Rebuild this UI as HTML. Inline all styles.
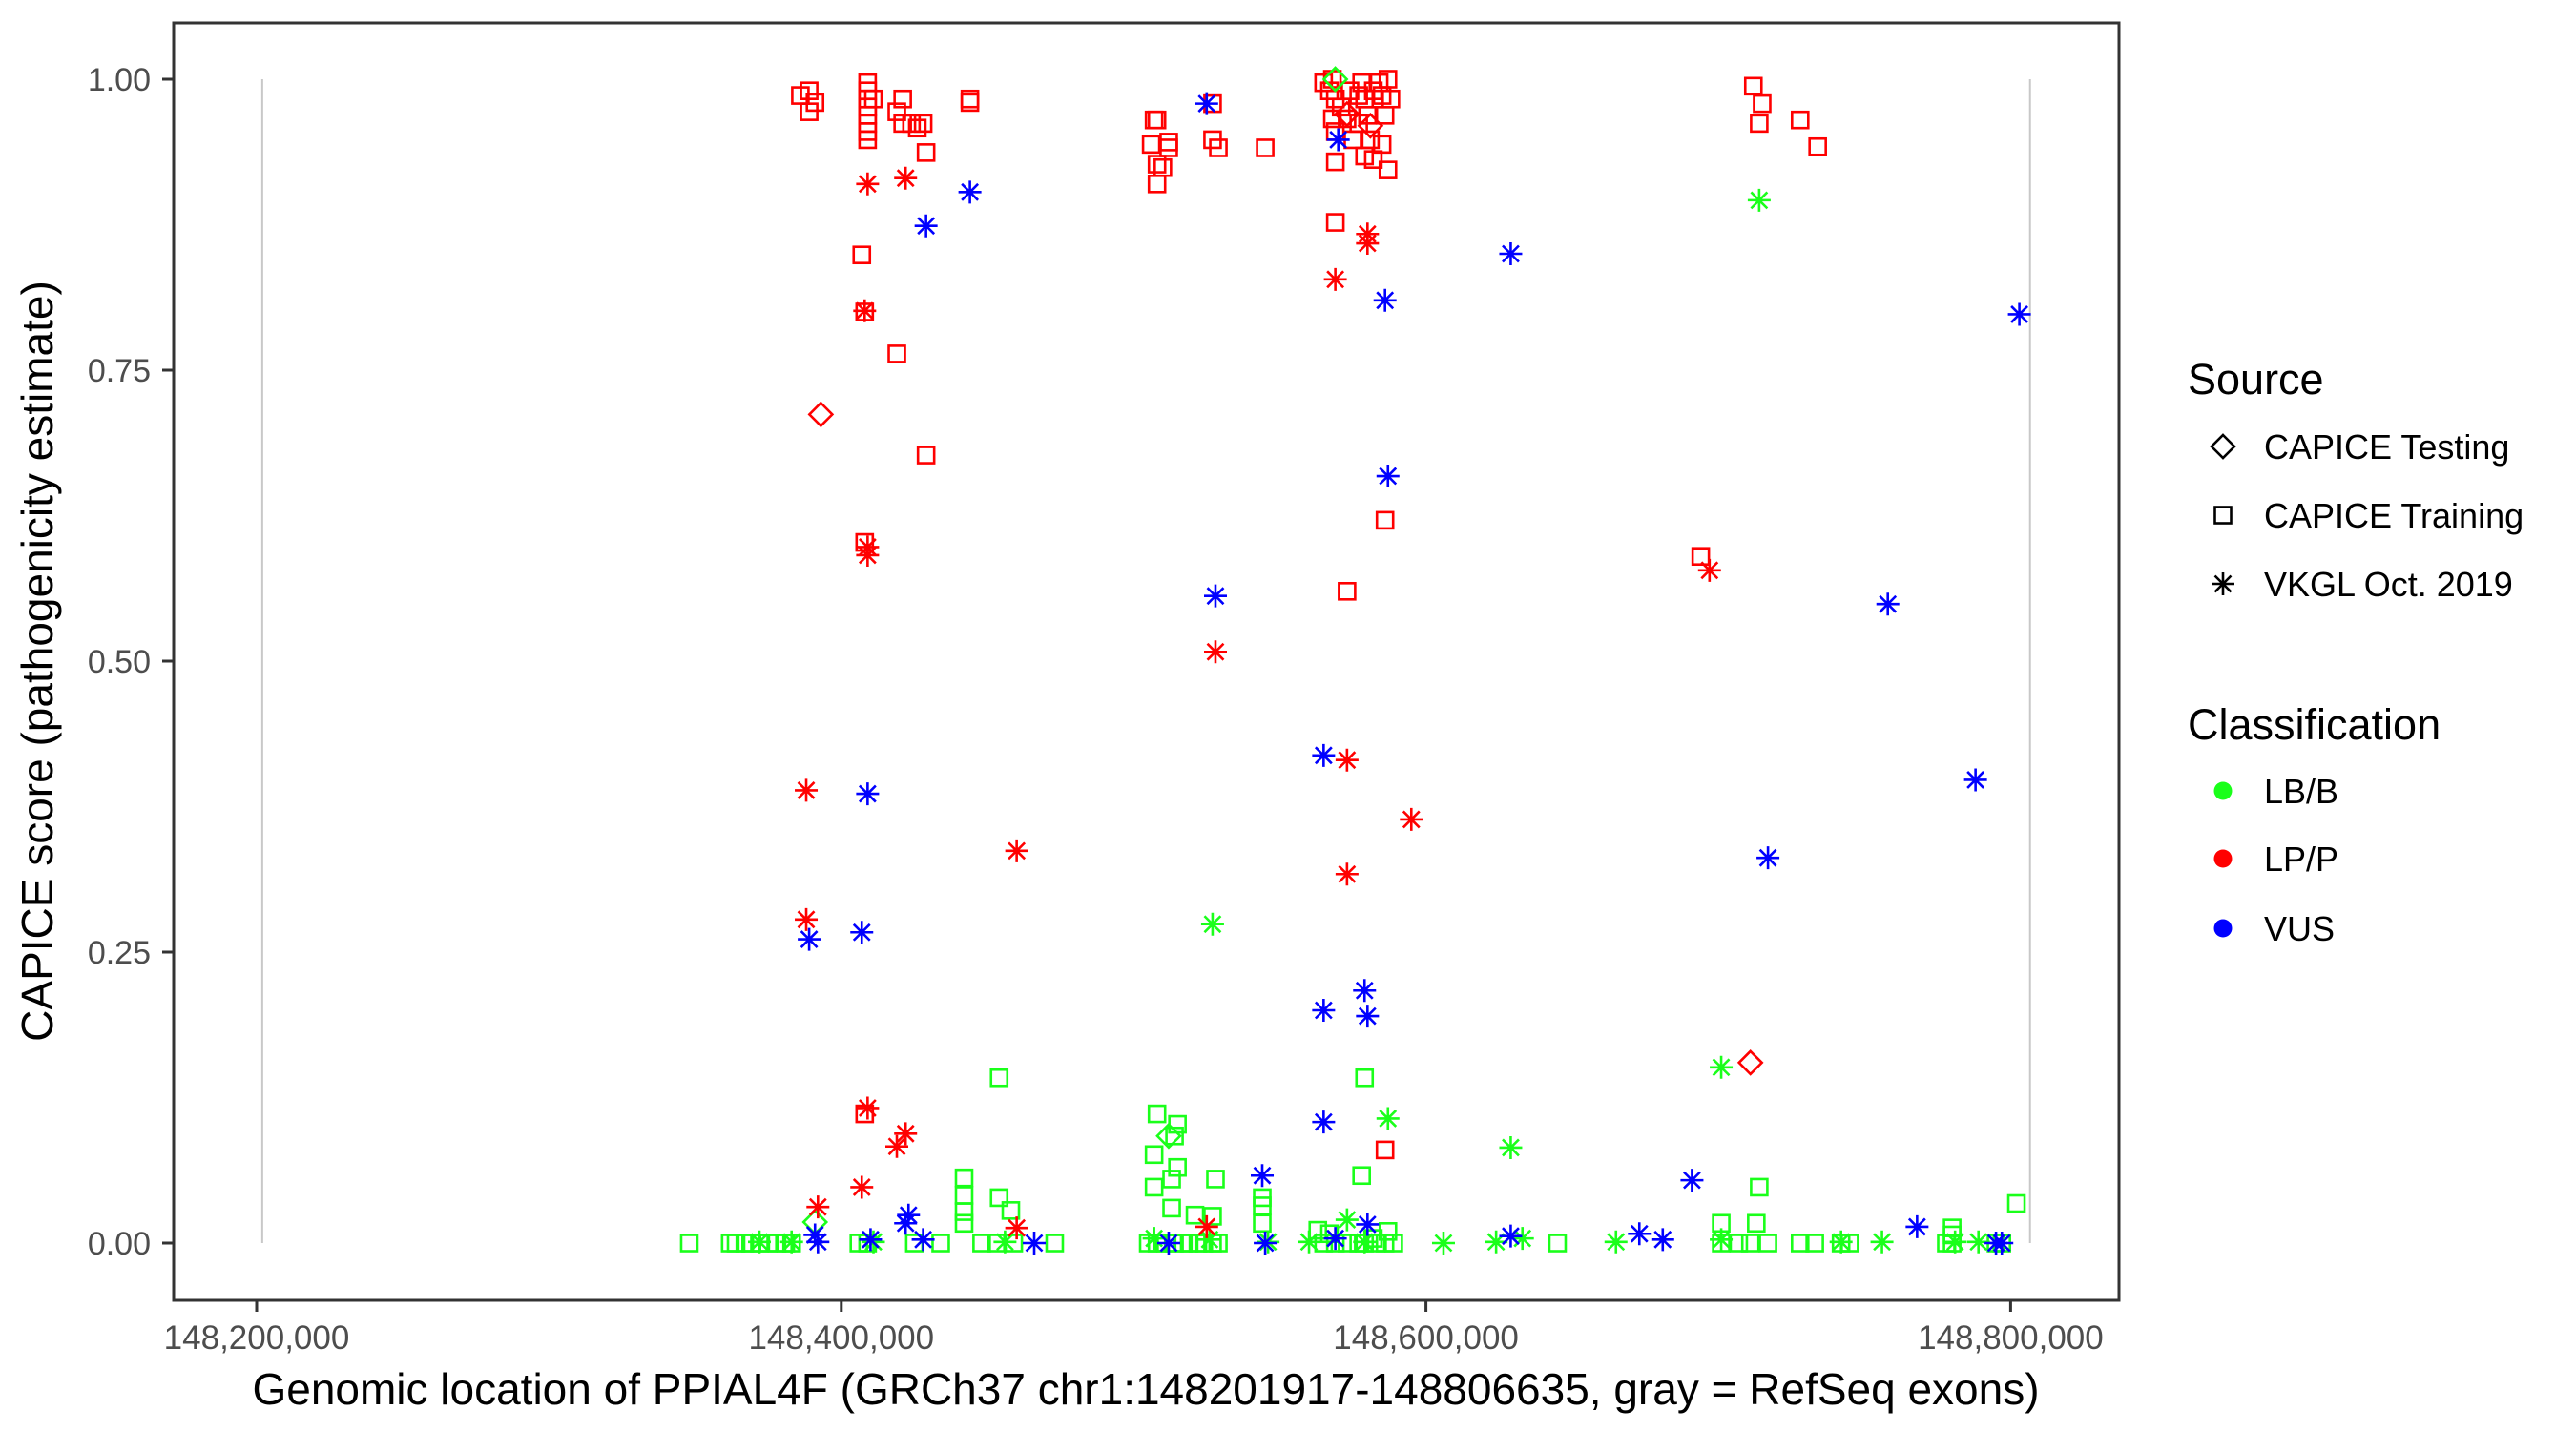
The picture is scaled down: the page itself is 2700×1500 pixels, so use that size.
<!DOCTYPE html>
<html><head><meta charset="utf-8"><style>
html,body{margin:0;padding:0;background:#fff;}
svg{display:block;font-family:"Liberation Sans",sans-serif;}
</style></head><body>
<svg id="chart" width="2700" height="1500" viewBox="0 0 2700 1500" xmlns="http://www.w3.org/2000/svg">
<rect x="0" y="0" width="2700" height="1500" fill="#fff"/>
<g id="plot"></g>
<g id="axes"></g>
<g id="legend"></g>
</svg>
<script>
const xTicks = [148200000, 148400000, 148600000, 148800000];
const xTickLabels = ["148,200,000","148,400,000","148,600,000","148,800,000"];
const yTicks = [0, 0.25, 0.5, 0.75, 1.0];
const yTickLabels = ["0.00","0.25","0.50","0.75","1.00"];
const exons = [148201917, 148806635];

// positions in kb (148,xxx,000), scores
const trainLP = [[148386,.986],[148389,.99],[148391,.98],[148389,.972],
[148409,.997],[148409,.99],[148409,.983],[148409,.976],[148409,.969],[148409,.962],[148409,.955],[148409,.948],
[148411,.983],[148419,.972],[148421,.983],[148424,.962],[148426,.958],[148428,.962],[148421,.962],
[148444,.983],[148444,.98],[148429,.937],[148407,.849],[148408,.80],[148419,.764],[148429,.677],[148408,.602],
[148507,.965],[148508,.965],[148506,.944],[148508,.927],[148510,.924],[148508,.91],[148512,.946],[148512,.941],[148527,.979],[148527,.948],[148529,.941],[148545,.941],
[148565,.997],[148567,.99],[148568,1.0],[148569,.983],[148571,.976],[148574,.99],[148577,.986],[148578,.997],[148579,.983],[148582,.99],[148584,.997],[148585,.986],[148587,1.0],[148588,.983],[148586,.969],[148580,.969],[148577,.962],[148573,.966],[148568,.966],[148569,.929],[148579,.934],[148582,.931],[148587,.922],[148585,.944],[148581,.948],[148569,.955],[148575,.948],
[148569,.877],[148573,.56],[148586,.621],[148586,.08],
[148712,.994],[148714,.962],[148715,.979],[148728,.965],[148734,.942],[148694,.59],[148408,.111]];
const testLP = [[148393,.712],[148711,.155],[148573,.97],[148581,.96]];
const vkglLP = [[148409,.91],[148422,.915],[148408,.801],[148409,.598],[148409,.591],[148388,.389],[148388,.278],[148460,.337],[148528,.508],[148569,.828],[148580,.867],[148580,.859],[148573,.415],[148573,.317],[148595,.364],[148697,.578],[148409,.116],[148422,.094],[148419,.083],[148407,.048],[148392,.031],[148460,.013],[148525,.014]];
const vkglVUS = [[148525,.979],[148570,.948],[148444,.903],[148429,.874],[148586,.81],[148629,.85],[148587,.659],[148528,.556],[148803,.798],[148758,.549],[148409,.386],[148389,.261],[148407,.267],[148565,.419],[148788,.398],[148717,.331],[148565,.20],[148579,.217],[148580,.195],[148565,.104],[148544,.058],[148691,.054],[148423,.024],[148422,.017],[148580,.016],[148768,.014],[148673,.008],[148391,.007],[148410,.003],[148428,.003],[148466,0],[148512,0],[148545,0],[148569,.004],[148629,.006],[148681,.003],[148795,0],[148797,0],[148392,.001]];
const vkglLB = [[148714,.896],[148527,.274],[148701,.151],[148587,.107],[148629,.082],[148573,.02],[148372,.001],[148383,.001],[148411,.001],[148456,.001],[148507,.004],[148526,.003],[148546,.001],[148560,.001],[148579,.001],[148606,0],[148624,.001],[148633,.004],[148665,.001],[148701,.003],[148742,.001],[148756,.001],[148789,.001],[148781,.001]];
const trainLB = [[148454,.142],[148508,.111],[148515,.102],[148514,.092],[148507,.076],[148515,.065],[148579,.142],[148578,.058],[148528,.055],[148513,.055],[148507,.048],[148714,.048],[148442,.056],[148442,.041],[148442,.027],[148442,.017],[148454,.039],[148458,.028],[148544,.039],[148544,.032],[148544,.017],[148802,.034],[148701,.017],[148713,.017],[148513,.030],[148521,.024],[148527,.023],[148563,.011],[148567,.008],[148780,.013],[148780,.007],[148587,.01],[148582,.004],
[148348,0],[148362,0],[148364,0],[148367,0],[148369,0],[148372,0],[148375,0],[148378,0],[148381,0],[148383,0],[148406,0],[148409,0],[148425,0],[148434,0],[148448,0],[148453,0],[148459,0],[148473,0],[148505,0],[148508,0],[148511,0],[148514,0],[148517,0],[148519,0],[148522,0],[148524,0],[148527,0],[148529,0],[148565,0],[148569,0],[148573,0],[148577,0],[148579,0],[148583,0],[148586,0],[148589,0],[148645,0],[148701,0],[148707,0],[148711,0],[148717,0],[148728,0],[148733,0],[148742,0],[148745,0],[148778,0],[148780,0],[148795,0],[148797,0]];
const testLB = [[148512,.092],[148391,.018],[148569,1.0]];

const NS = "http://www.w3.org/2000/svg";
const X0 = 269, KX = 0.003064;
function xs(v){ return X0 + (v - 148200000) * KX; }
function ys(v){ return 1303 - 1220 * v; }
const COL = {LB:"#1aff1a", LP:"#ff0000", VUS:"#0000ff"};

function mk(tag, attrs, parent){
  const e = document.createElementNS(NS, tag);
  for (const k in attrs) e.setAttribute(k, attrs[k]);
  parent.appendChild(e);
  return e;
}
const plot = document.getElementById('plot');
const axes = document.getElementById('axes');
const legend = document.getElementById('legend');

const panel = mk('rect', {x:182, y:24, width:2039, height:1339, fill:'#fff', stroke:'none'}, plot);



exons.forEach(p => {
  const l = mk('line', {x1:xs(p), x2:xs(p), y1:ys(1), y2:ys(0), stroke:'#c8c8c8', 'stroke-width':2}, plot);
  
  
});

function drawShape(g, shape, cx, cy, color){
  let e;
  if (shape === 'square') {
    e = mk('rect', {x:cx-8.5, y:cy-8.5, width:17, height:17, fill:'none', stroke:color, 'stroke-width':2.6}, g);
  } else if (shape === 'diamond') {
    e = mk('path', {d:`M${cx},${cy-12}L${cx+12},${cy}L${cx},${cy+12}L${cx-12},${cy}Z`, fill:'none', stroke:color, 'stroke-width':2.6}, g);
  } else {
    const r = 12, d = r*0.7071;
    e = mk('path', {d:`M${cx-r},${cy}H${cx+r}M${cx},${cy-r}V${cy+r}M${cx-d},${cy-d}L${cx+d},${cy+d}M${cx-d},${cy+d}L${cx+d},${cy-d}`, fill:'none', stroke:color, 'stroke-width':2.6}, g);
  }
  return e;
}

const series = [
  [trainLB,'square','LB'],[trainLP,'square','LP'],
  [testLB,'diamond','LB'],[testLP,'diamond','LP'],
  [vkglLB,'star','LB'],[vkglLP,'star','LP'],[vkglVUS,'star','VUS']
];
series.forEach(([arr, shape, cls]) => {
  const g = mk('g', {}, plot);
  
  
  arr.forEach(([kb, s]) => {
    const e = drawShape(g, shape, xs(kb*1000), ys(s), COL[cls]);
    
    
  });
});

const border = mk('rect', {x:182, y:24, width:2039, height:1339, fill:'none', stroke:'#333', 'stroke-width':3}, axes);



yTicks.forEach((v, i) => {
  const t = mk('line', {x1:170, x2:182, y1:ys(v), y2:ys(v), stroke:'#333', 'stroke-width':3}, axes);
  
  
  const tx = mk('text', {x:158, y:ys(v)+12, 'text-anchor':'end', 'font-size':34, fill:'#4d4d4d'}, axes);
  tx.textContent = yTickLabels[i];
  
  
});
xTicks.forEach((v, i) => {
  const t = mk('line', {x1:xs(v), x2:xs(v), y1:1363, y2:1375, stroke:'#333', 'stroke-width':3}, axes);
  
  
  const tx = mk('text', {x:xs(v), y:1414, 'text-anchor':'middle', 'font-size':35, fill:'#4d4d4d'}, axes);
  tx.textContent = xTickLabels[i];
  
  
});
const xt = mk('text', {x:1201, y:1472, 'text-anchor':'middle', 'font-size':46, fill:'#000'}, axes);
xt.textContent = 'Genomic location of PPIAL4F (GRCh37 chr1:148201917-148806635, gray = RefSeq exons)';


const yt = mk('text', {x:0, y:0, 'text-anchor':'middle', 'font-size':46, fill:'#000', transform:'translate(55,693) rotate(-90)'}, axes);
yt.textContent = 'CAPICE score (pathogenicity estimate)';



function ltext(x, y, s, size, name){
  const t = mk('text', {x:x, y:y, 'font-size':size, fill:'#000'}, legend);
  t.textContent = s;
  
  
}
ltext(2293, 413, 'Source', 45, 'legend-title-source');
const srcItems = [['diamond','CAPICE Testing',468],['square','CAPICE Training',540],['star','VKGL Oct. 2019',612]];
srcItems.forEach(([sh, lab, cy]) => {
  const e = drawShape(legend, sh, 2330, cy, '#000');
  
  
  ltext(2373, cy+13, lab, 36, 'legend-entry');
});
ltext(2293, 775, 'Classification', 45, 'legend-title-classification');
const clsItems = [['LB','LB/B',829],['LP','LP/P',900],['VUS','VUS',973]];
clsItems.forEach(([c, lab, cy]) => {
  const e = mk('circle', {cx:2330, cy:cy, r:9.5, fill:COL[c]}, legend);
  
  
  ltext(2373, cy+13, lab, 36, 'legend-entry');
});
</script>
</body></html>
